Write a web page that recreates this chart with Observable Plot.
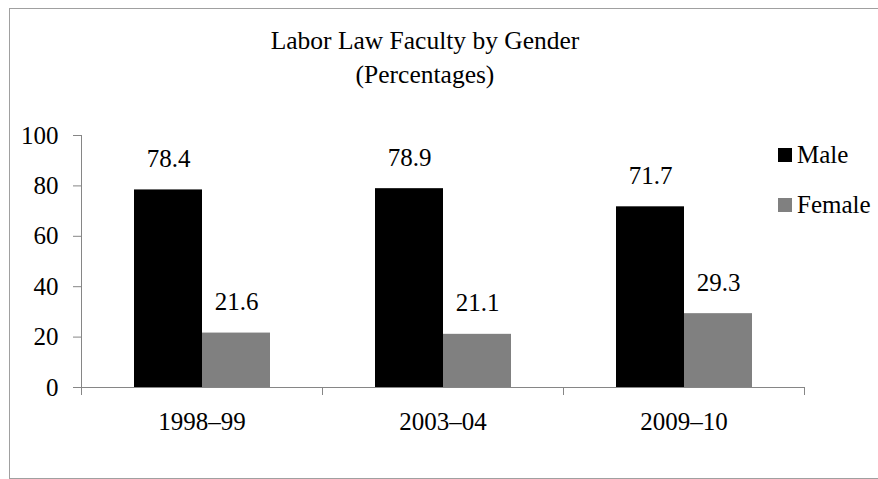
<!DOCTYPE html>
<html><head><meta charset="utf-8">
<script src="https://cdn.jsdelivr.net/npm/d3@7"></script>
<script src="https://cdn.jsdelivr.net/npm/@observablehq/plot@0.6"></script>
<style>
body{margin:0;background:#fff;}
#wrap{position:relative;width:878px;height:479px;overflow:hidden;font-family:"Liberation Serif","Tinos","Times New Roman","DejaVu Serif",serif;color:#000;}
#border{position:absolute;left:9px;top:8px;width:900px;height:469px;border:1px solid #a0a0a0;}
#title{position:absolute;left:0;width:850px;top:24px;text-align:center;font-size:25.5px;line-height:34px;}
.leg{position:absolute;left:778px;font-size:25px;line-height:25px;white-space:nowrap;}
.sw{position:absolute;left:0;width:14px;height:14px;}
.lt{position:absolute;left:19px;}
#chart{position:absolute;left:0;top:0;}
</style></head>
<body>
<div id="wrap">
  <div id="border"></div>
  <div id="title">Labor Law Faculty by Gender<br>(Percentages)</div>
  <div id="chart"></div>
  <div id="legend"></div>
</div>
<script>
const years = ["1998–99", "2003–04", "2009–10"];
const genders = ["Male", "Female"];
const male = [78.4, 78.9, 71.7];
const female = [21.6, 21.1, 29.3];
const yTicks = [0, 20, 40, 60, 80, 100];
const colors = ["#000000", "#808080"];

const data = years.flatMap((y, i) => [
  {year: y, gender: "Male", value: male[i]},
  {year: y, gender: "Female", value: female[i]}
]);

const axisGrey = "#868686";
const font = "'Liberation Serif','Tinos','Times New Roman','DejaVu Serif',serif";

const chart = Plot.plot({
  width: 878,
  height: 479,
  marginLeft: 81,
  marginRight: 74,
  marginTop: 135,
  marginBottom: 92,
  style: {fontFamily: font, fontSize: "25px", background: "transparent", overflow: "visible", color: "#000"},
  fx: {domain: years, padding: 0, label: null},
  x: {domain: genders, paddingInner: 0, paddingOuter: 0.76, axis: null},
  y: {domain: [0, 100]},
  color: {domain: genders, range: colors},
  marks: [
    Plot.barY(data, {fx: "year", x: "gender", y: "value", fill: "gender"}),
    Plot.ruleY([0], {stroke: axisGrey}),
    Plot.frame({anchor: "left", fx: [years[0]], stroke: axisGrey, insetBottom: -7}),
    Plot.frame({anchor: "left", insetTop: 252, insetBottom: -7, stroke: axisGrey}),
    Plot.frame({anchor: "right", insetTop: 252, insetBottom: -7, stroke: axisGrey}),
    Plot.axisY({ticks: yTicks, tickSize: 8, tickPadding: 15, label: null, stroke: axisGrey, fill: "#000", fontSize: 25, fontFamily: font}),
    Plot.text(data, {fx: "year", x: "gender", y: "value", text: d => d.value.toFixed(1), lineAnchor: "bottom", dy: -23, fontSize: 25, fill: "#000", fontFamily: font}),
    Plot.axisFx({anchor: "bottom", tickSize: 0, tickPadding: 25, label: null, fontSize: 25, fill: "#000", fontFamily: font})
  ]
});
document.getElementById("chart").appendChild(chart);

const legend = document.getElementById("legend");
const legTops = [148, 198];
genders.forEach((g, i) => {
  const item = document.createElement("div");
  item.className = "leg";
  item.style.top = legTops[i] + "px";
  const sw = document.createElement("div");
  sw.className = "sw";
  sw.style.background = colors[i];
  const t = document.createElement("div");
  t.className = "lt";
  t.style.top = "-6px";
  t.textContent = g;
  item.appendChild(sw);
  item.appendChild(t);
  legend.appendChild(item);
});
</script>
</body></html>
